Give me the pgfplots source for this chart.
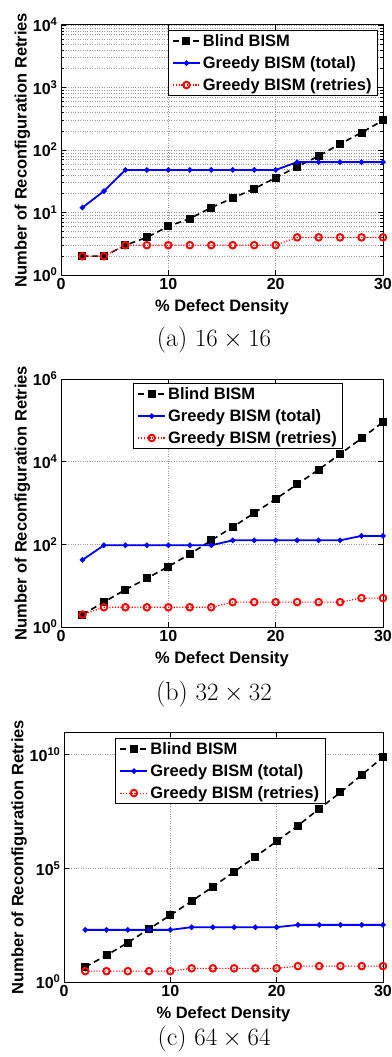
\documentclass[border=0pt]{standalone}
\usepackage{pgfplots}
\pgfplotsset{compat=1.18}
\usepackage{fontspec}
\setsansfont{Liberation Sans}
\newcommand{\plotfont}{\sffamily\bfseries\fontsize{16.5}{19}\selectfont}
\newcommand{\tickfont}{\sffamily\bfseries\fontsize{16}{18}\selectfont}
\pgfplotsset{
  every axis/.append style={
    scale only axis, xmin=0, xmax=30,
    xtick={0,10,20,30}, xticklabels={0,10,20,30},
    tick label style={font=\tickfont},
    label style={font=\plotfont},
    xlabel={\% Defect Density},
    ylabel={Number of Reconfiguration Retries},
    xlabel style={yshift=-3pt},
    ylabel style={yshift=-4pt},
    axis line style={line width=1pt},
    tick style={black, line width=0.6pt},
    major tick length=5pt, minor tick length=3pt,
    xmajorgrids, ymajorgrids,
    grid style={dotted, gray!80, line width=0.6pt},
    legend cell align=left,
    legend style={font=\plotfont, draw=black, line width=0.8pt, fill=white,
      inner xsep=4pt, inner ysep=2pt, row sep=4.5pt},
    legend image code/.code={\draw[mark repeat=2,mark phase=2] plot coordinates {(0pt,0pt)(13.5pt,0pt)(27pt,0pt)};},
  },
}
\tikzset{
  blindst/.style={black, line width=1.6pt, dash pattern=on 6pt off 4pt, mark=square*, mark size=3.2pt, mark options={solid}},
  totalst/.style={blue, line width=1.8pt, solid, mark=*, mark size=1.7pt},
  retrst/.style={red, line width=1.1pt, dash pattern=on 1.2pt off 1.6pt, mark=o, mark size=3.3pt, mark options={solid, line width=1.9pt}},
}
\begin{document}
\begin{tikzpicture}
\path[use as bounding box] (0pt,0pt) rectangle (391pt,-1057pt);
% (a)
\begin{axis}[ymode=log, at={(61pt,-275pt)}, anchor=south west, width=322pt, height=250pt,
  ymin=1, ymax=10000, ytick={1,10,100,1000,10000},
  yticklabels={10\textsuperscript{0},10\textsuperscript{1},10\textsuperscript{2},10\textsuperscript{3},10\textsuperscript{4}},
  yminorgrids,
  legend style={at={(0.9845,0.98)}, anchor=north east}]
\addplot[blindst] coordinates {(2,2)(4,2)(6,3)(8,4)(10,6)(12,8)(14,12)(16,17)(18,24)(20,36)(22,54)(24,80)(26,125)(28,190)(30,298)};
\addplot[totalst] coordinates {(2,12)(4,22)(6,48)(8,48)(10,48)(12,48)(14,48)(16,48)(18,48)(20,48)(22,64)(24,64)(26,64)(28,64)(30,64)};
\addplot[retrst] coordinates {(2,2)(4,2)(6,3)(8,3)(10,3)(12,3)(14,3)(16,3)(18,3)(20,3)(22,4)(24,4)(26,4)(28,4)(30,4)};
\legend{Blind BISM, Greedy BISM (total), Greedy BISM (retries)}
\end{axis}
\node[font=\fontsize{26}{30}\selectfont] at (214pt,-340pt) {(a) $16\times 16$};
% (b)
\begin{axis}[ymode=log, at={(61pt,-627pt)}, anchor=south west, width=322pt, height=248pt,
  ymin=1, ymax=1000000, ytick={1,100,10000,1000000},
  yticklabels={10\textsuperscript{0},10\textsuperscript{2},10\textsuperscript{4},10\textsuperscript{6}},
  legend style={at={(0.55,0.984)}, anchor=north}]
\addplot[blindst] coordinates {(2,2)(4,4)(6,8)(8,15)(10,29)(12,58)(14,125)(16,263)(18,573)(20,1250)(22,2830)(24,6400)(26,15300)(28,36700)(30,91000)};
\addplot[totalst] coordinates {(2,42)(4,95)(6,95)(8,95)(10,95)(12,95)(14,95)(16,125)(18,125)(20,125)(22,125)(24,125)(26,125)(28,160)(30,160)};
\addplot[retrst] coordinates {(2,2)(4,3)(6,3)(8,3)(10,3)(12,3)(14,3)(16,4)(18,4)(20,4)(22,4)(24,4)(26,4)(28,5)(30,5)};
\legend{Blind BISM, Greedy BISM (total), Greedy BISM (retries)}
\end{axis}
\node[font=\fontsize{26}{30}\selectfont] at (214pt,-694pt) {(b) $32\times 32$};
% (c)
\begin{axis}[ymode=log, at={(64pt,-982pt)}, anchor=south west, width=319pt, height=250pt,
  ymin=1, ymax=1e11, ytick={1,1e5,1e10},
  yticklabels={10\textsuperscript{0},10\textsuperscript{5},10\textsuperscript{10}},
  legend style={at={(0.49,0.976)}, anchor=north}]
\addplot[blindst] coordinates {(2,4.6)(4,15)(6,54)(8,218)(10,870)(12,3600)(14,15500)(16,71000)(18,326000)(20,1550000)(22,7600000)(24,42000000)(26,220000000)(28,1300000000)(30,7900000000)};
\addplot[totalst] coordinates {(2,197)(4,197)(6,197)(8,197)(10,197)(12,258)(14,258)(16,258)(18,258)(20,258)(22,327)(24,327)(26,327)(28,327)(30,327)};
\addplot[retrst] coordinates {(2,3)(4,3)(6,3)(8,3)(10,3)(12,4)(14,4)(16,4)(18,4)(20,4)(22,5)(24,5)(26,5)(28,5)(30,5)};
\legend{Blind BISM, Greedy BISM (total), Greedy BISM (retries)}
\end{axis}
\node[font=\fontsize{26}{30}\selectfont] at (214pt,-1038.5pt) {(c) $64\times 64$};
\end{tikzpicture}
\end{document}
